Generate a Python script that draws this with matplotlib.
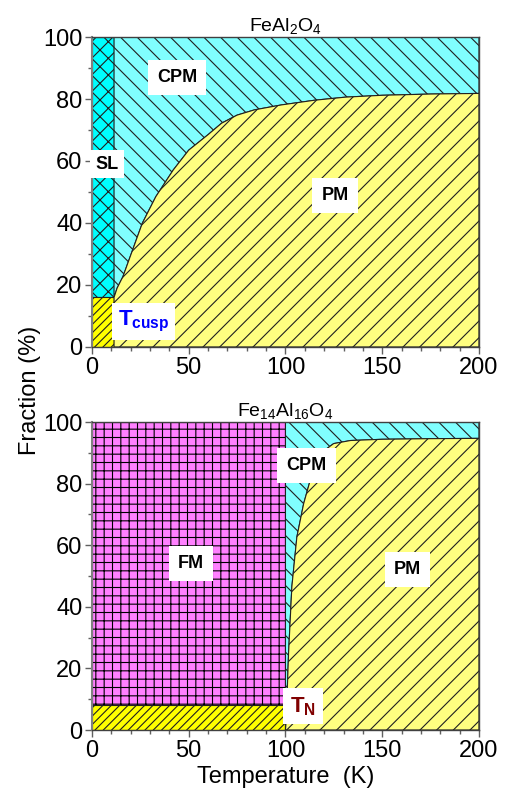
import matplotlib
matplotlib.use("Agg")
import matplotlib.pyplot as plt
from matplotlib.ticker import MultipleLocator
import numpy as np

plt.rcParams['font.family'] = ['Liberation Sans', 'DejaVu Sans']
plt.rcParams['mathtext.fontset'] = 'custom'
plt.rcParams['mathtext.rm'] = 'Liberation Sans'
plt.rcParams['mathtext.bf'] = 'Liberation Sans:bold'
plt.rcParams['hatch.linewidth'] = 0.8

# FeAl2O4 : SL / Tcusp strip and PM/CPM boundary
sl_temp = 11.4
sl_low = 16.0
pm_temp_a = [11.4, 13, 16, 21, 26, 33, 42, 50, 60, 67, 75, 84, 98, 115, 131, 150, 175, 200]
pm_frac_a = [16, 19, 22.7, 31.3, 39.9, 48.5, 57.1, 63.5, 68.5, 72.2, 74.8, 76.5, 78.1, 79.6, 80.6, 81.2, 81.6, 81.8]

# Fe14Al16O4 : FM block and PM/CPM boundary
fm_temp = 100.0
fm_low = 8.0
pm_temp_b = [100, 100.4, 101.6, 103.3, 105.9, 109.4, 112.8, 118, 124.9, 133.6, 150, 175, 200]
pm_frac_b = [0, 3.4, 24.9, 46.5, 62.7, 73.5, 81.1, 89.8, 93, 94, 94.4, 94.6, 94.7]

CYAN = '#80ffff'
CYAN_D = '#00ffff'
YEL = '#ffff80'
YEL_D = '#ffff00'
MAG = '#ff80ff'
EDGE = '#202020'


def style_axes(ax):
    ax.set_xlim(0, 200)
    ax.set_ylim(0, 100)
    ax.xaxis.set_major_locator(MultipleLocator(50))
    ax.xaxis.set_minor_locator(MultipleLocator(10))
    ax.yaxis.set_major_locator(MultipleLocator(20))
    ax.yaxis.set_minor_locator(MultipleLocator(10))
    ax.tick_params(which='both', direction='out', labelsize=17, color='#606060', width=1, pad=2)
    ax.tick_params(which='major', length=5)
    ax.tick_params(which='minor', length=3)
    for s in ax.spines.values():
        s.set_color('#404040')
        s.set_linewidth(1)
        s.set_zorder(5)
    ax.spines['left'].set_color('#808080')
    ax.spines['left'].set_linewidth(1.5)


def label(ax, x, y, s, color='black', size=13, pad=0.5):
    ax.text(x, y, s, ha='center', va='center', fontsize=size, fontweight='bold', color=color,
            zorder=6, bbox=dict(boxstyle='square,pad=%g' % pad, facecolor='white', edgecolor='none'))


fig = plt.figure(figsize=(5.09, 7.96), dpi=100)
ax1 = fig.add_axes([0.1807, 0.5641, 0.7603, 0.3894])
ax2 = fig.add_axes([0.1807, 0.0829, 0.7603, 0.3869])

# ---- top panel
ta = np.array(pm_temp_a)
fa = np.array(pm_frac_a)
ax1.fill_between([0, sl_temp], sl_low, 100, facecolor=CYAN_D, edgecolor=EDGE, hatch='xx', lw=0.8)
ax1.fill_between([0, sl_temp], 0, sl_low, facecolor=YEL_D, edgecolor=EDGE, hatch='////', lw=0.8)
ax1.fill_between(ta, fa, 100, facecolor=CYAN, edgecolor=EDGE, hatch='\\\\', lw=0.8)
ax1.fill_between(ta, 0, fa, facecolor=YEL, edgecolor=EDGE, hatch='//', lw=0.8)
style_axes(ax1)
ax1.set_title(r'FeAl$_2$O$_4$', fontsize=14, pad=3)
label(ax1, 44, 87, 'CPM')
label(ax1, 7.8, 59, 'SL', pad=0.3)
label(ax1, 125.6, 49, 'PM')
label(ax1, 26.6, 8.2, r'$\mathbf{T_{cusp}}$', color='#0000ff', size=16, pad=0.25)

# ---- bottom panel
tb = np.array(pm_temp_b)
fb = np.array(pm_frac_b)
ax2.fill_between([0, fm_temp], fm_low, 100, facecolor=MAG, edgecolor='black', hatch='++', lw=0.8)
ax2.fill_between([0, fm_temp], 0, fm_low, facecolor=YEL_D, edgecolor=EDGE, hatch='////', lw=0.8)
ax2.fill_between(tb, fb, 100, facecolor=CYAN, edgecolor=EDGE, hatch='\\\\', lw=0.8)
ax2.fill_between(tb, 0, fb, facecolor=YEL, edgecolor=EDGE, hatch='//', lw=0.8)
style_axes(ax2)
ax2.set_title(r'Fe$_{14}$Al$_{16}$O$_4$', fontsize=14, pad=3)
label(ax2, 51.2, 54, 'FM')
label(ax2, 110.9, 86, 'CPM')
label(ax2, 163, 52, 'PM')
label(ax2, 109, 7.7, r'$\mathbf{T_N}$', color='#800000', size=16, pad=0.3)
ax2.set_xlabel('Temperature  (K)', fontsize=17, labelpad=3)

fig.text(0.059, 0.51, 'Fraction (%)', rotation=90, ha='center', va='center', fontsize=17)

fig.savefig('out.png', dpi=100)
